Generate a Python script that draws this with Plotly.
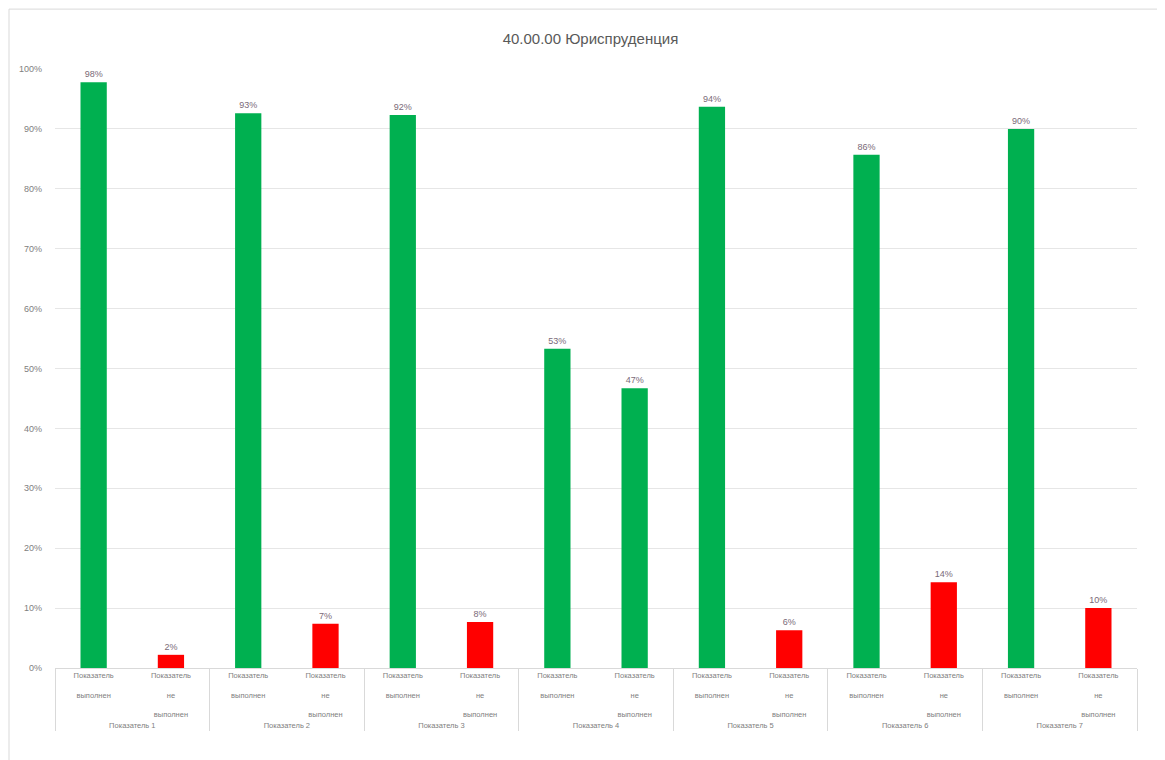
import plotly.graph_objects as go

groups = ["Показатель 1", "Показатель 2", "Показатель 3", "Показатель 4",
          "Показатель 5", "Показатель 6", "Показатель 7"]
sub_done = "Показатель<br><br>выполнен"
sub_not = "Показатель<br><br>не<br><br>выполнен"
done = [0.978, 0.926, 0.923, 0.533, 0.937, 0.857, 0.900]
not_done = [0.022, 0.074, 0.077, 0.467, 0.063, 0.143, 0.100]
# bar 4 "not done" is green in the reference
not_done_colors = ["#FF0000", "#FF0000", "#FF0000", "#00B050", "#FF0000", "#FF0000", "#FF0000"]

xg, xs, yv, cols = [], [], [], []
for g, d, n, c in zip(groups, done, not_done, not_done_colors):
    xg += [g, g]
    xs += [sub_done, sub_not]
    yv += [d, n]
    cols += ["#00B050", c]

fig = go.Figure(go.Bar(
    x=[xg, xs], y=yv,
    marker=dict(color=cols, line=dict(width=0)),
    texttemplate="%{y:.0%}", textposition="outside",
    textfont=dict(size=9, color="#7a6a78", family="Liberation Sans"),
    cliponaxis=False,
))

fig.update_layout(
    width=1165, height=760,
    paper_bgcolor="white", plot_bgcolor="white",
    margin=dict(l=47, r=36, t=61, b=100),
    title=dict(text="40.00.00 Юриспруденция", x=0.5, xanchor="center", y=0.96, yanchor="middle",
               font=dict(size=15, color="#595959", family="Liberation Sans")),
    bargap=0.66,
    showlegend=False,
    font=dict(family="Liberation Sans", color="#808080"),
)
fig.update_yaxes(range=[0, 1.0], dtick=0.1, tickformat=".0%", gridcolor="#e6e6e6",
                 zeroline=False, showline=False, ticks="", automargin=False,
                 ticklabelstandoff=12,
                 tickfont=dict(size=9, color="#808080"))
fig.update_xaxes(showline=True, linecolor="#d9d9d9", showdividers=True,
                 dividercolor="#d9d9d9", dividerwidth=1, automargin=False,
                 tickfont=dict(size=7.5, color="#808080"), showgrid=False)

fig.add_shape(type="rect", xref="paper", yref="paper",
              x0=-0.0425, x1=1.021, y0=-0.3, y1=1.1,
              line=dict(color="#d9d9d9", width=1), layer="below")

fig.write_html("out.html")
